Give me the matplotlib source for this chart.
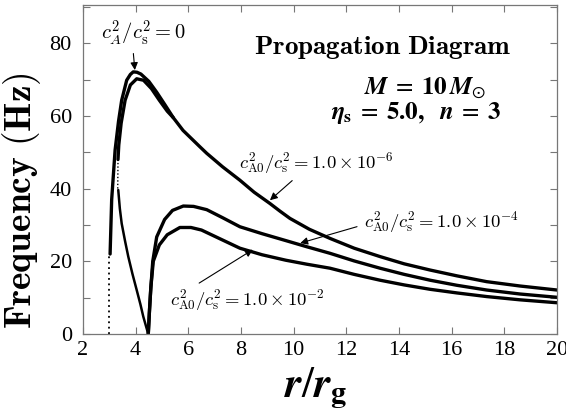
import numpy as np
import matplotlib
matplotlib.use("Agg")
import matplotlib.pyplot as plt
import matplotlib.ticker as mticker

# --- data ---
# c_A^2/c_s^2 = 0 (outer curve)
r_zero = [3.03, 3.09, 3.22, 3.35, 3.47, 3.66, 3.80, 3.91, 4.05, 4.20, 4.50, 4.80, 5.10,
          5.43, 5.80, 6.44, 6.70, 7.30, 7.96, 8.50, 9.10, 9.48, 9.86, 10.60, 11.38,
          12.30, 13.28, 14.20, 15.18, 16.20, 17.33, 18.60, 20.0]
f_zero = [22.0, 37.0, 50.6, 58.5, 64.3, 69.8, 71.4, 72.1, 72.0, 71.5, 69.5, 66.5, 63.2,
          59.5, 56.0, 51.5, 49.7, 46.0, 42.3, 39.0, 35.9, 33.8, 31.8, 28.8, 26.3,
          23.6, 21.3, 19.3, 17.6, 16.0, 14.4, 13.2, 12.1]
# dotted foot of the outer curve
r_zero_dot = [3.0, 3.0]
f_zero_dot = [0.0, 22.0]

# c_A0^2/c_s^2 = 1e-6 (inner curve near the peak)
r_m6 = [3.33, 3.36, 3.45, 3.60, 3.80, 4.04, 4.30, 4.60, 4.90, 5.20, 5.43]
f_m6 = [48.0, 52.0, 58.0, 64.3, 68.5, 70.2, 69.8, 67.5, 64.3, 61.3, 59.5]
r_m6_dot = [3.32, 3.33]
f_m6_dot = [40.0, 48.0]
# descending inner branch
r_inner = [3.34, 3.40, 3.47, 3.60, 3.72, 3.88, 4.04, 4.18, 4.29, 4.40, 4.48]
f_inner = [39.6, 34.5, 30.4, 25.5, 21.3, 16.5, 12.1, 8.2, 4.8, 2.0, 0.0]

# c_A0^2/c_s^2 = 1e-4
r_m4 = [4.48, 4.52, 4.57, 4.65, 4.80, 5.10, 5.40, 5.81, 6.20, 6.70, 7.30, 7.96, 8.80,
        9.70, 10.50, 11.38, 12.30, 13.28, 14.20, 15.18, 16.20, 17.33, 18.60, 20.0]
f_m4 = [0.0, 5.7, 12.0, 20.0, 26.7, 31.5, 34.0, 35.2, 35.1, 34.2, 32.0, 29.5, 27.6,
        25.7, 24.0, 22.2, 20.1, 18.1, 16.4, 14.8, 13.4, 12.1, 11.0, 10.1]

# c_A0^2/c_s^2 = 1e-2
r_m2 = [4.48, 4.53, 4.58, 4.67, 4.90, 5.20, 5.68, 6.10, 6.50, 7.20, 7.96, 8.80,
        9.70, 10.50, 11.38, 12.30, 13.28, 14.20, 15.18, 16.20, 17.33, 18.60, 20.0]
f_m2 = [0.0, 7.0, 13.0, 20.0, 24.5, 27.3, 29.3, 29.3, 28.6, 26.2, 23.6, 21.8,
        20.3, 19.2, 18.1, 16.4, 14.8, 13.5, 12.3, 11.3, 10.3, 9.4, 8.6]

fig = plt.figure(figsize=(5.66, 4.12), dpi=100)
ax = fig.add_axes([0.1466, 0.1893, 0.8374, 0.7986])

lw = 2.4
ax.plot(r_zero, f_zero, color='black', lw=lw, solid_capstyle='round')
ax.plot(r_zero_dot, f_zero_dot, color='black', lw=1.3, ls=(0, (1, 2)))
ax.plot(r_m6, f_m6, color='black', lw=lw, solid_capstyle='round')
ax.plot(r_m6_dot, f_m6_dot, color='black', lw=1.0, ls=(0, (1, 1.5)))
ax.plot(r_inner, f_inner, color='black', lw=1.8, solid_capstyle='round')
ax.plot(r_m4, f_m4, color='black', lw=lw, solid_capstyle='round')
ax.plot(r_m2, f_m2, color='black', lw=lw, solid_capstyle='round')

ax.set_xlim(2, 20)
ax.set_ylim(0, 90.5)
ax.xaxis.set_major_locator(mticker.MultipleLocator(2))
ax.yaxis.set_major_locator(mticker.MultipleLocator(20))
ax.yaxis.set_minor_locator(mticker.MultipleLocator(10))
ax.tick_params(which='both', direction='in', top=True, right=True,
               color='#777777', width=0.8)
ax.tick_params(which='major', length=5, labelsize=16)
ax.tick_params(which='minor', length=5)
ax.tick_params(axis='x', pad=5)
ax.tick_params(axis='y', pad=8)
for lab in ax.get_xticklabels() + ax.get_yticklabels():
    lab.set_fontfamily('Liberation Serif')
for sp in ax.spines.values():
    sp.set_color('#777777')
    sp.set_linewidth(0.9)

# axis labels
fig.text(22 / 566, 1 - 201 / 412, r'$\mathbf{Frequency\ (Hz)}$', rotation=90,
         ha='center', va='center', fontsize=27, math_fontfamily='cm')
fig.text(316 / 566, 1 - 388 / 412, r'$\mathbfit{r}/\mathbfit{r}_{\mathbf{g}}$',
         ha='center', va='center', fontsize=31, math_fontfamily='stix')

# titles inside the panel
ax.text(13.39, 78.9, r'$\mathbf{Propagation\ Diagram}$', ha='center', va='center',
        fontsize=19.5, math_fontfamily='cm')
ax.text(14.99, 67.6, r'$\mathbfit{M}\;=\;\mathbf{10}\,\mathbfit{M}_{\odot}$', ha='center',
        va='center', fontsize=18, math_fontfamily='stix')
ax.text(14.65, 60.8, r'$\mathbfit{\eta}_{\mathbf{s}}\;=\;\mathbf{5.0,}\ \ \mathbfit{n}\;=\;\mathbf{3}$',
        ha='center', va='center', fontsize=18, math_fontfamily='stix')

# annotations
arrow = dict(arrowstyle='-|>', color='black', lw=0.8, mutation_scale=11, shrinkA=2, shrinkB=0)
ax.annotate(r'$c_A^2/c_\mathrm{s}^2 = 0$', xy=(3.97, 72.6), xytext=(4.28, 82.7),
            ha='center', va='center', fontsize=14.8, math_fontfamily='cm',
            arrowprops=dict(arrow, relpos=(0.38, 0.0)))
ax.annotate(r'$c_\mathrm{A0}^2/c_\mathrm{s}^2 = 1.0\times10^{-6}$', xy=(9.1, 36.8),
            xytext=(10.85, 47.0), ha='center', va='center', fontsize=13.4,
            math_fontfamily='cm', arrowprops=dict(arrow, relpos=(0.38, 0.0)))
ax.annotate(r'$c_\mathrm{A0}^2/c_\mathrm{s}^2 = 1.0\times10^{-4}$', xy=(10.25, 25.0),
            xytext=(15.63, 30.8), ha='center', va='center', fontsize=13.4,
            math_fontfamily='cm', arrowprops=dict(arrow, relpos=(-0.03, 0.35)))
ax.annotate(r'$c_\mathrm{A0}^2/c_\mathrm{s}^2 = 1.0\times10^{-2}$', xy=(8.45, 23.2),
            xytext=(8.23, 9.3), ha='center', va='center', fontsize=13.4,
            math_fontfamily='cm', arrowprops=dict(arrow, relpos=(0.16, 1.05)))

fig.savefig('out.png', dpi=100)
